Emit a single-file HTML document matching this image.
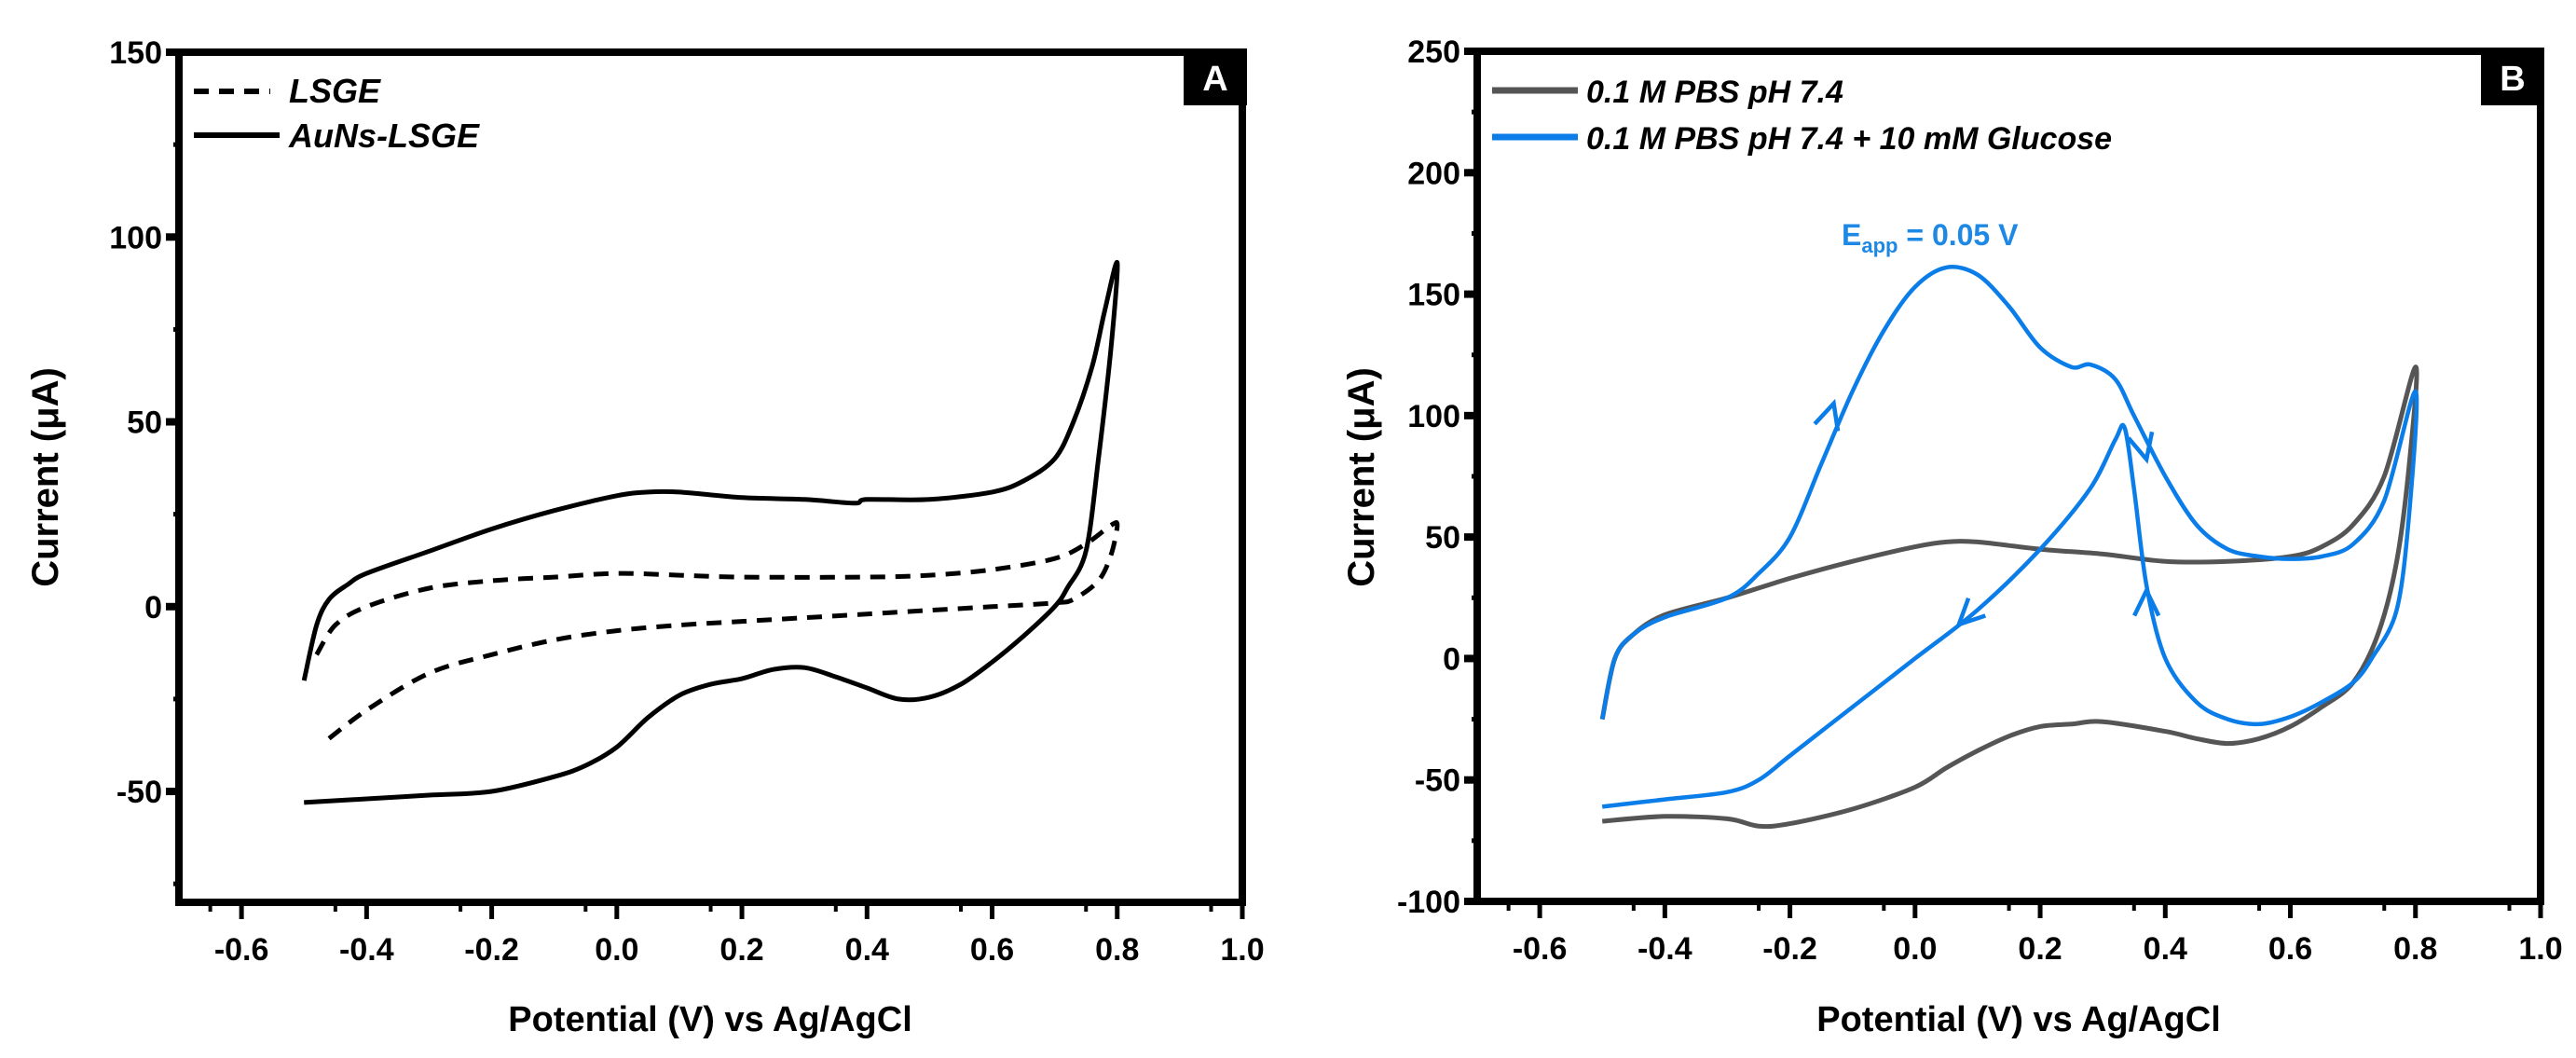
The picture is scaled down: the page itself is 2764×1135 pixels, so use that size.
<!DOCTYPE html>
<html><head><meta charset="utf-8"><style>
html,body{margin:0;padding:0;background:#fff;}
svg{display:block;}
text{font-family:"Liberation Sans",sans-serif;}
</style></head><body>
<svg id="c" width="2764" height="1135" viewBox="0 0 2764 1135" xmlns="http://www.w3.org/2000/svg"></svg>
<script>
const NS="http://www.w3.org/2000/svg";
const svg=document.getElementById('c');
// ---- Panel A data ----
const aunsX=[-0.5,-0.48,-0.46,-0.43,-0.4,-0.3,-0.2,-0.1,0.0,0.05,0.1,0.2,0.3,0.38,0.4,0.5,0.6,0.65,0.7,0.73,0.76,0.78,0.8,0.79,0.77,0.75,0.72,0.7,0.65,0.6,0.55,0.5,0.45,0.4,0.35,0.3,0.25,0.2,0.15,0.1,0.05,0.0,-0.05,-0.1,-0.2,-0.3,-0.4,-0.5];
const aunsY=[-20,-5,2,6,9,15,21,26,30,31,31,29.5,29,28,29,29,31,34,40,50,65,80,93,70,40,15,5,0,-8,-15,-21,-24.5,-25,-22,-19,-16.5,-17,-19.5,-21,-24,-30,-38,-43,-46,-50,-51,-52,-53];
const lsgeX=[-0.48,-0.45,-0.4,-0.3,-0.2,-0.1,0.0,0.1,0.2,0.4,0.5,0.6,0.7,0.75,0.79,0.8,0.79,0.77,0.73,0.7,0.6,0.5,0.4,0.3,0.2,0.1,0.0,-0.1,-0.2,-0.3,-0.4,-0.47];
const lsgeY=[-13,-5,0,5,7,8,9,8.5,8,8,8.5,10,13,17,22,22,14,7,2,1,0,-1,-2,-3,-4,-5,-6.5,-9,-13,-18,-28,-37];
// ---- Panel B data ----
const pbsX=[-0.5,-0.48,-0.45,-0.4,-0.3,-0.2,-0.1,0.0,0.05,0.1,0.2,0.3,0.4,0.5,0.6,0.65,0.7,0.75,0.8,0.79,0.77,0.74,0.7,0.65,0.6,0.55,0.5,0.45,0.4,0.3,0.25,0.2,0.15,0.1,0.05,0.0,-0.1,-0.2,-0.25,-0.3,-0.4,-0.5];
const pbsY=[-25,0,10,18,25,33,40,46,48,48,45,43,40,40,42,46,55,75,120,80,40,10,-10,-20,-28,-33,-35,-33,-30,-26,-27,-28,-32,-38,-45,-53,-62,-68,-69,-66,-65,-67];
const gluX=[-0.5,-0.48,-0.45,-0.4,-0.3,-0.25,-0.2,-0.15,-0.1,-0.05,0.0,0.05,0.1,0.15,0.2,0.25,0.28,0.32,0.35,0.4,0.45,0.5,0.55,0.6,0.65,0.7,0.75,0.8,0.79,0.77,0.73,0.7,0.65,0.6,0.55,0.5,0.45,0.4,0.37,0.35,0.335,0.32,0.28,0.2,0.1,0.0,-0.1,-0.2,-0.25,-0.3,-0.4,-0.5];
const gluY=[-25,0,10,17,25,35,50,80,110,135,153,161,158,145,128,120,121,115,100,75,55,45,42,41,42,47,65,110,60,20,0,-10,-18,-24,-27,-25,-18,0,30,70,95,90,70,45,20,0,-20,-40,-50,-55,-58,-61];
const arrowX=[-0.13,0.37,0.37,0.07];
const arrowY=[105,82,28,14];
const arrowDX=[0.03,0.02,0,-0.04];
const arrowDY=[25,-20,30,-10];
const xTicks=[-0.6,-0.4,-0.2,0.0,0.2,0.4,0.6,0.8,1.0];
const xTickLabels=["-0.6","-0.4","-0.2","0.0","0.2","0.4","0.6","0.8","1.0"];
const yTicksA=[-50,0,50,100,150];
const yTicksB=[-100,-50,0,50,100,150,200,250];

function el(tag,attrs,parent){const e=document.createElementNS(NS,tag);for(const k in attrs)e.setAttribute(k,attrs[k]);(parent||svg).appendChild(e);return e;}
function makeAxes(x0,x1,y0,y1,vmin,vmax){
  return {x:v=>x0+(v+0.7)/1.7*(x1-x0), y:v=>y1-(v-vmin)/(vmax-vmin)*(y1-y0)};
}
function smooth(pts){
  let d=`M${pts[0][0].toFixed(1)},${pts[0][1].toFixed(1)}`;
  for(let i=0;i<pts.length-1;i++){
    const p0=pts[Math.max(0,i-1)],p1=pts[i],p2=pts[i+1],p3=pts[Math.min(pts.length-1,i+2)];
    const t=0.16;
    const c1=[p1[0]+(p2[0]-p0[0])*t,p1[1]+(p2[1]-p0[1])*t];
    const c2=[p2[0]-(p3[0]-p1[0])*t,p2[1]-(p3[1]-p1[1])*t];
    d+=` C${c1[0].toFixed(1)},${c1[1].toFixed(1)} ${c2[0].toFixed(1)},${c2[1].toFixed(1)} ${p2[0].toFixed(1)},${p2[1].toFixed(1)}`;
  }
  return d;
}
function drawPanel(ax,x0,x1,y0,y1,yTicks,minorStep,vmin,vmax,g){
  // ticks
  xTicks.forEach((v,i)=>{
    const t=el('line',{x1:ax.x(v),x2:ax.x(v),y1:y1,y2:y1+18,stroke:'#000','stroke-width':5},g);
    
    
    const m=el('line',{x1:ax.x(v)-33.5,x2:ax.x(v)-33.5,y1:y1,y2:y1+10,stroke:'#000','stroke-width':4},g);
    
    
    const tx=el('text',{x:ax.x(v),y:y1+62,'text-anchor':'middle','font-size':34,'font-weight':'bold'},g);
    tx.textContent=xTickLabels[i];
    
    
  });
  for(let v=vmin;v<=vmax;v+=minorStep){
    const major=yTicks.includes(v);
    const t=el('line',{x1:x0-(major?14:6),x2:x0,y1:ax.y(v),y2:ax.y(v),stroke:'#000','stroke-width':major?8:5},g);
    
    
  }
  yTicks.forEach(v=>{
    const tx=el('text',{x:x0-18,y:ax.y(v)+12,'text-anchor':'end','font-size':34,'font-weight':'bold'},g);
    tx.textContent=String(v);
    
    
  });
  const fr=el('rect',{x:x0,y:y0,width:x1-x0,height:y1-y0,fill:'none',stroke:'#000','stroke-width':8},g);
  
  
}
function series(ax,xs,ys,color,w,dash,name,g){
  const pts=xs.map((v,i)=>[ax.x(v),ax.y(ys[i])]);
  const p=el('path',{d:smooth(pts),fill:'none',stroke:color,'stroke-width':w,'stroke-linejoin':'round','stroke-dasharray':dash||'none'},g);
  
  
}
function label(x,y,txt,size,g,name,extra){
  const t=el('text',Object.assign({x:x,y:y,'font-size':size,'font-weight':'bold'},extra||{}),g);
  t.textContent=txt;
  
  
  return t;
}

// ---------- Panel A ----------
const gA=el('g',{});


const A=makeAxes(192,1333,56,968,-80,150);
drawPanel(A,192,1333,56,968,yTicksA,25,-75,150,gA);
series(A,lsgeX,lsgeY,'#000',5,'16,11','series-lsge',gA);
series(A,aunsX,aunsY,'#000',5,null,'series-auns-lsge',gA);
const bA=el('rect',{x:1270,y:52,width:68,height:61,fill:'#000'},gA);


label(1304,97,'A',38,gA,'panel-a-letter',{'text-anchor':'middle',fill:'#fff'});
const l1=el('line',{x1:208,x2:290,y1:98,y2:98,stroke:'#000','stroke-width':6,'stroke-dasharray':'16,11'},gA);


label(310,110,'LSGE',36,gA,'legend-label-lsge',{'font-style':'italic'});
const l2=el('line',{x1:208,x2:300,y1:145,y2:145,stroke:'#000','stroke-width':6},gA);


label(310,158,'AuNs-LSGE',36,gA,'legend-label-auns-lsge',{'font-style':'italic'});
label(762,1106,'Potential (V) vs Ag/AgCl',38,gA,'x-axis-title-a',{'text-anchor':'middle'});
label(0,0,'Current (μA)',40,gA,'y-axis-title-a',{'text-anchor':'middle',transform:'translate(62,512) rotate(-90)'});

// ---------- Panel B ----------
const gB=el('g',{});


const B=makeAxes(1585,2726,55,967,-100,250);
drawPanel(B,1585,2726,55,967,yTicksB,25,-100,250,gB);
series(B,pbsX,pbsY,'#555',5,null,'series-pbs',gB);
series(B,gluX,gluY,'#0a7de8',4.5,null,'series-pbs-glucose',gB);
arrowX.forEach((v,i)=>{
  const px=B.x(v),py=B.y(arrowY[i]);
  const dx=B.x(v+arrowDX[i])-B.x(v),dy=B.y(arrowY[i]+arrowDY[i])-B.y(arrowY[i]);
  const a=Math.atan2(dy,dx),L=30,s=0.45;
  const p1=[px-L*Math.cos(a-s),py-L*Math.sin(a-s)],p2=[px-L*Math.cos(a+s),py-L*Math.sin(a+s)];
  const ar=el('path',{d:`M${p1[0]},${p1[1]} L${px},${py} L${p2[0]},${p2[1]}`,fill:'none',stroke:'#0a7de8','stroke-width':4.5},gB);
  
  
});
const bB=el('rect',{x:2662,y:51,width:68,height:62,fill:'#000'},gB);


label(2696,97,'B',38,gB,'panel-b-letter',{'text-anchor':'middle',fill:'#fff'});
const l3=el('line',{x1:1601,x2:1693,y1:97,y2:97,stroke:'#555','stroke-width':7},gB);


label(1702,110,'0.1 M PBS pH 7.4',34,gB,'legend-label-pbs',{'font-style':'italic'});
const l4=el('line',{x1:1601,x2:1693,y1:147,y2:147,stroke:'#0a7de8','stroke-width':7},gB);


label(1702,160,'0.1 M PBS pH 7.4 + 10 mM Glucose',34,gB,'legend-label-glucose',{'font-style':'italic'});
const ea=label(1976,263,'E',32,gB,'e-app-annotation',{fill:'#1e88e5'});
const sub=el('tspan',{'font-size':22,dy:8},ea);sub.textContent='app';
const rest=el('tspan',{dy:-8},ea);rest.textContent=' = 0.05 V';
label(2166,1106,'Potential (V) vs Ag/AgCl',38,gB,'x-axis-title-b',{'text-anchor':'middle'});
label(0,0,'Current (μA)',40,gB,'y-axis-title-b',{'text-anchor':'middle',transform:'translate(1474,512) rotate(-90)'});
</script>
</body></html>
